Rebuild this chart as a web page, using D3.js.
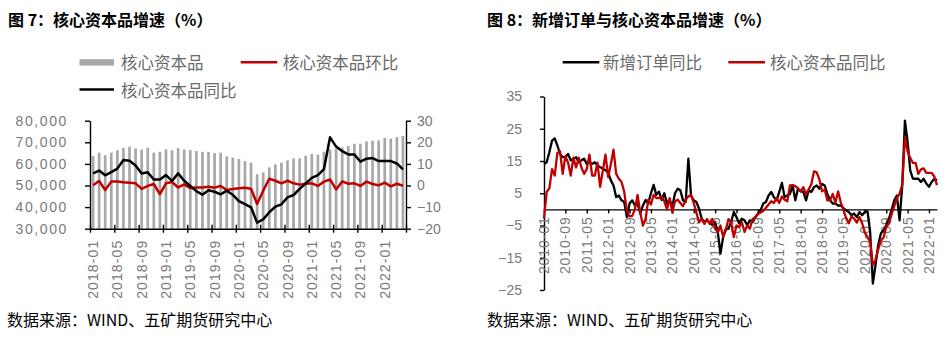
<!DOCTYPE html>
<html>
<head>
<meta charset="utf-8">
<script src="https://cdn.jsdelivr.net/npm/d3@7"></script>
<style>
  body { margin: 0; background: #fff; }
  svg { display: block; }
</style>
</head>
<body>
<svg id="chart" width="947" height="340"></svg>
<script>
// ---------- data: figure 7 (monthly, 2018-01 .. 2022-04) ----------
const capexLevel = [63600, 65200, 64000, 65200, 66300, 67500, 68000, 67200, 66600, 67500,
  65200, 65600, 66700, 66300, 67300, 66700, 66400, 66000, 65600, 65500,
  65000, 65200, 63500, 62900, 62300, 61300, 60560, 55200, 56100, 58400,
  59800, 60560, 61600, 62560, 62560, 63800, 64600, 64300, 65650, 66700,
  67200, 67650, 68300, 69350, 69350, 70400, 70700, 70900, 72000, 71700,
  72400, 72900];
const capexMoM = [0.1, 2.1, -2.1, 1.8, 1.8, 1.5, 1.3, 1.0, -1.6, -0.2,
  0.7, -4.0, 1.0, 1.6, -0.9, 0.5, -1.2, -0.9, -0.9, -0.6,
  -1.0, -0.2, -2.1, -1.6, -1.3, -1.0, -1.5, -8.6, -2.4, 3.1,
  2.2, 1.0, 2.2, 1.0, 0.4, 0.8, 1.0, -0.2, 1.8, 2.8,
  -1.8, 1.9, 0.8, 1.0, -0.2, 1.8, 0.7, 0.1, 1.3, -0.4,
  0.8, -0.1];
const capexYoY = [5.6, 6.9, 4.7, 6.2, 7.8, 11.8, 11.5, 9.3, 5.6, 6.1,
  2.8, 2.8, 4.8, 2.1, 5.6, 2.2, -0.2, -2.6, -4.3, -2.2,
  -2.9, -4.1, -2.4, -4.3, -7.2, -8.6, -10.1, -17.2, -15.7, -12.4,
  -9.8, -8.7, -5.5, -4.4, -1.6, 1.0, 3.5, 4.8, 7.6, 22.3,
  18.0, 15.9, 14.4, 14.4, 11.0, 12.4, 12.7, 11.3, 11.3, 11.3,
  10.2, 7.5];
const leftTickLabels = ["2018-01", "2018-05", "2018-09", "2019-01", "2019-05", "2019-09",
  "2020-01", "2020-05", "2020-09", "2021-01", "2021-05", "2021-09", "2022-01"];
const levelTicks = [30000, 40000, 50000, 60000, 70000, 80000];
const pctTicks = [-20, -10, 0, 10, 20, 30];

// ---------- data: figure 8 (monthly, 2010-01 .. 2022-04) ----------
const ordersYoY = [14.1, 14.6, 17.7, 21.3, 22.0, 19.8, 17.2, 16.2, 16.2, 17.2,
  15.2, 15.7, 16.2, 14.6, 15.2, 15.7, 14.1, 14.6, 14.1, 14.6,
  13.6, 13.1, 12.6, 12.1, 11.5, 9.0, 7.4, 3.8, 4.3, 2.8,
  2.3, -2.4, 1.8, 2.8, 1.2, 1.8, -1.3, 1.2, 2.9, 1.9,
  5.0, 7.6, 4.5, 5.5, 2.9, 5.0, 1.9, 2.9, 0.8, 5.0,
  6.4, 5.9, 2.8, 2.3, 15.7, 4.3, 2.8, 2.3, 0.2, -2.9,
  -3.9, -3.4, -4.1, -4.9, -3.9, -7.0, -13.7, -8.6, -6.0, -6.0,
  -3.9, -0.8, -2.4, -4.4, -2.9, -3.4, -4.9, -3.4, -3.9, -2.4,
  -1.3, -0.3, 1.8, 2.3, 4.3, 5.4, 3.8, 2.8, 5.4, 8.2,
  3.8, 4.3, 4.8, 7.4, 2.8, 6.4, 5.6, 5.4, 2.8, 5.9,
  5.4, 6.9, 7.4, 6.4, 7.9, 7.4, 4.8, 2.8, 1.8, 1.8,
  1.2, 1.2, 0.4, -0.3, -0.8, -1.8, -1.3, -2.4, -0.8, -1.8,
  -0.8, -0.6, -7.0, -23.0, -17.3, -11.1, -7.5, -6.5, -4.9, -2.9,
  -0.3, 2.8, 4.3, -3.4, 7.4, 27.5, 21.0, 12.0, 9.5, 9.5,
  9.5, 8.5, 9.5, 8.0, 7.0, 8.5, 9.5, 9.0];
const coreYoY = [-2.9, 5.4, 6.5, 12.5, 10.5, 17.5, 18.0, 11.0, 16.5, 14.5,
  10.5, 16.0, 13.0, 16.0, 13.0, 11.0, 12.5, 17.0, 10.5, 10.5,
  14.5, 7.0, 12.0, 17.0, 10.0, 14.0, 18.5, 11.0, 9.5, 8.5,
  5.5, -0.5, -2.2, -2.0, 0.0, 4.5, -1.0, -5.0, -3.0, 3.0,
  1.5, 4.5, 3.5, 3.5, 4.0, 2.5, 0.0, 3.5, -1.0, 2.5,
  3.0, 2.0, 1.0, 3.0, 4.0, 4.5, 2.0, -1.0, -4.0, -3.0,
  -4.5, -3.0, -4.5, -3.0, -6.0, -7.0, -5.0, -8.5, -6.5, -3.0,
  -4.0, -8.6, -5.0, -5.5, -4.0, -7.0, -5.0, -6.0, -3.0, -2.5,
  -1.5, -1.0, -0.5, 0.5, 1.5, 2.5, 2.0, 3.5, 2.0, 4.0,
  3.0, 2.5, 7.4, 7.5, 7.2, 6.5, 5.6, 6.9, 4.7, 6.2,
  7.8, 11.8, 11.5, 9.3, 5.6, 6.1, 2.8, 2.8, 4.8, 2.1,
  5.6, 2.2, -0.2, -2.6, -4.3, -2.2, -2.9, -4.1, -2.4, -4.3,
  -7.2, -8.6, -10.1, -17.2, -15.7, -12.4, -9.8, -8.7, -5.5, -4.4,
  -1.6, 1.0, 3.5, 4.8, 7.6, 22.3, 18.0, 15.9, 14.4, 14.4,
  11.0, 12.4, 12.7, 11.3, 11.3, 11.3, 10.2, 7.5];
const rightTickLabels = ["2010-01", "2010-09", "2011-05", "2012-01", "2012-09", "2013-05",
  "2014-01", "2014-09", "2015-05", "2016-01", "2016-09", "2017-05", "2018-01", "2018-09",
  "2019-05", "2020-01", "2020-09", "2021-05", "2022-01"];
const rightYTicks = [-25, -15, -5, 5, 15, 25, 35];

// month keys "YYYY-MM"
function monthKeys(year, month, n) {
  const out = [];
  for (let i = 0; i < n; i++) {
    const t = (month - 1) + i;
    out.push(`${year + Math.floor(t / 12)}-${String(t % 12 + 1).padStart(2, "0")}`);
  }
  return out;
}
const capexMonths = monthKeys(2018, 1, capexLevel.length);
const orderMonths = monthKeys(2010, 1, ordersYoY.length);

// ---------- styles ----------
const CJK = '"Noto Sans CJK SC", "Noto Sans", sans-serif';
const LATIN = '"Liberation Sans", Arial, sans-serif';
const AXIS_TEXT = "#7a7a7a";
const LEGEND_TEXT = "#6a6a6a";
const RED = "#c00000";
const GRAY_BAR = "#a8a8a8";

const svg = d3.select("#chart");

function styleAxis(g) {
  g.select(".domain").attr("stroke", "#000").attr("stroke-width", 1.4);
  g.selectAll(".tick line").attr("stroke", "#000").attr("stroke-width", 1.4);
  g.selectAll(".tick text")
    .attr("fill", AXIS_TEXT)
    .style("font-family", LATIN)
    .style("font-size", "14px");
}

// ---------- titles and sources ----------
svg.append("text").attr("x", 8).attr("y", 18.5)
  .attr("dominant-baseline", "central")
  .style("font-family", CJK).style("font-size", "16px").style("font-weight", "bold")
  .attr("fill", "#000").text("图 7：核心资本品增速（%）");
svg.append("text").attr("x", 487).attr("y", 18.5)
  .attr("dominant-baseline", "central")
  .style("font-family", CJK).style("font-size", "16px").style("font-weight", "bold")
  .attr("fill", "#000").text("图 8：新增订单与核心资本品增速（%）");
svg.append("text").attr("x", 7).attr("y", 318.5)
  .attr("dominant-baseline", "central")
  .style("font-family", CJK).style("font-size", "16px")
  .attr("fill", "#000").text("数据来源：WIND、五矿期货研究中心");
svg.append("text").attr("x", 487).attr("y", 318.5)
  .attr("dominant-baseline", "central")
  .style("font-family", CJK).style("font-size", "16px")
  .attr("fill", "#000").text("数据来源：WIND、五矿期货研究中心");

function legendText(x, y, label) {
  svg.append("text").attr("x", x).attr("y", y)
    .attr("dominant-baseline", "central")
    .style("font-family", CJK).style("font-size", "16.5px")
    .attr("fill", LEGEND_TEXT).text(label);
}
function legendLine(x1, x2, y, color) {
  svg.append("line").attr("x1", x1).attr("x2", x2).attr("y1", y).attr("y2", y)
    .attr("stroke", color).attr("stroke-width", 2.6);
}

// ---------- figure 7 ----------
{
  const left = 90, right = 406, top = 120.7, bottom = 228.7;
  const x = d3.scaleBand().domain(capexMonths).range([left, right]).padding(0);
  const bw = x.bandwidth();
  const xc = m => x(m) + bw / 2;
  const yLevel = d3.scaleLinear().domain([30000, 80000]).range([bottom, top]);
  const yPct = d3.scaleLinear().domain([-20, 30]).range([bottom, top]);

  // legend
  svg.append("rect").attr("x", 79.5).attr("y", 59.2).attr("width", 34.5).attr("height", 6.4)
    .attr("fill", GRAY_BAR);
  legendText(121, 62.3, "核心资本品");
  legendLine(240.7, 277.3, 62.3, RED);
  legendText(282.7, 62.3, "核心资本品环比");
  legendLine(79.5, 114, 89.5, "#000");
  legendText(121, 89.5, "核心资本品同比");

  // bars: capital goods level
  const barW = 2.7;
  svg.append("g").selectAll("rect").data(capexMonths).join("rect")
    .attr("x", (m) => xc(m) - barW / 2)
    .attr("y", (m, i) => yLevel(capexLevel[i]))
    .attr("width", barW)
    .attr("height", (m, i) => yLevel(30000) - yLevel(capexLevel[i]))
    .attr("fill", GRAY_BAR);

  const line = (vals) => d3.line()
    .x((m) => xc(m))
    .y((m, i) => yPct(vals[i]))(capexMonths);

  svg.append("path").attr("d", line(capexMoM))
    .attr("fill", "none").attr("stroke", RED).attr("stroke-width", 2.5)
    .attr("stroke-linejoin", "round");
  svg.append("path").attr("d", line(capexYoY))
    .attr("fill", "none").attr("stroke", "#000").attr("stroke-width", 2.5)
    .attr("stroke-linejoin", "round");

  // left axis (level)
  const gL = svg.append("g").attr("transform", `translate(${left},0)`)
    .call(d3.axisLeft(yLevel).tickValues(levelTicks).tickSize(5).tickSizeOuter(0)
      .tickFormat(d3.format(",")).tickPadding(17));
  styleAxis(gL);
  gL.selectAll(".tick text").style("letter-spacing", "1.6px");

  // right axis (percent)
  const gR = svg.append("g").attr("transform", `translate(${right},0)`)
    .call(d3.axisRight(yPct).tickValues(pctTicks).tickSize(5).tickSizeOuter(0)
      .tickFormat(d3.format("d")).tickPadding(6));
  styleAxis(gR);

  // bottom axis: ticks on month-group boundaries, labels under the first month of each group
  const xIdx = d3.scaleLinear().domain([0, capexMonths.length]).range([left, right]);
  const gB = svg.append("g").attr("transform", `translate(0,${bottom})`)
    .call(d3.axisBottom(xIdx).tickValues(d3.range(0, capexMonths.length + 1, 4))
      .tickSizeOuter(0).tickFormat(""));
  styleAxis(gB);
  gB.selectAll(".tick line").attr("y1", -4).attr("y2", 4);

  svg.append("g").selectAll("text").data(leftTickLabels).join("text")
    .attr("transform", (d) => `translate(${xc(d)},${bottom + 11}) rotate(-90)`)
    .attr("text-anchor", "end")
    .attr("dominant-baseline", "central")
    .attr("fill", AXIS_TEXT)
    .style("font-family", LATIN).style("font-size", "14px")
    .style("letter-spacing", "1.1px")
    .text((d) => d);
}

// ---------- figure 8 ----------
{
  const left = 544, right = 937, top = 96.5, bottom = 290;
  const x = d3.scalePoint().domain(orderMonths).range([left, right]);
  const y = d3.scaleLinear().domain([-25, 35]).range([bottom, top]);

  legendLine(562.7, 599.3, 62.3, "#000");
  legendText(603, 62.3, "新增订单同比");
  legendLine(728.3, 765, 62.3, RED);
  legendText(770, 62.3, "核心资本品同比");

  // y axis
  const gY = svg.append("g").attr("transform", `translate(${left},0)`)
    .call(d3.axisLeft(y).tickValues(rightYTicks).tickSize(4).tickSizeOuter(0)
      .tickFormat(d3.format("d")).tickPadding(18));
  styleAxis(gY);

  // x axis along zero
  const gX = svg.append("g").attr("transform", `translate(0,${y(0)})`)
    .call(d3.axisBottom(x).tickValues(rightTickLabels).tickSize(4).tickSizeOuter(0)
      .tickFormat(""));
  styleAxis(gX);

  svg.append("g").selectAll("text").data(rightTickLabels).join("text")
    .attr("transform", (d) => `translate(${x(d)},${y(0) + 7}) rotate(-90)`)
    .attr("text-anchor", "end")
    .attr("dominant-baseline", "central")
    .attr("fill", AXIS_TEXT)
    .style("font-family", LATIN).style("font-size", "14px")
    .style("letter-spacing", "0.9px")
    .text((d) => d);

  const line = (vals) => d3.line()
    .x((m) => x(m))
    .y((m, i) => y(vals[i]))(orderMonths);

  svg.append("path").attr("d", line(ordersYoY))
    .attr("fill", "none").attr("stroke", "#000").attr("stroke-width", 2.3)
    .attr("stroke-linejoin", "round");
  svg.append("path").attr("d", line(coreYoY))
    .attr("fill", "none").attr("stroke", RED).attr("stroke-width", 2.3)
    .attr("stroke-linejoin", "round");
}
</script>
</body>
</html>
